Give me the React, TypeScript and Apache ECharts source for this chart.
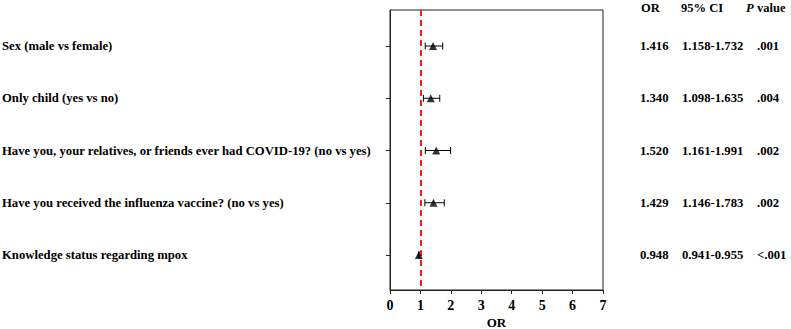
import React, { useEffect, useRef } from "react";
import * as echarts from "echarts";

const categories = [
  "Sex (male vs female)",
  "Only child (yes vs no)",
  "Have you, your relatives, or friends ever had COVID-19? (no vs yes)",
  "Have you received the influenza vaccine? (no vs yes)",
  "Knowledge status regarding mpox",
];
const orValues = [1.416, 1.34, 1.52, 1.429, 0.948];
const ciLower = [1.158, 1.098, 1.161, 1.146, 0.941];
const ciUpper = [1.732, 1.635, 1.991, 1.783, 0.955];
const orLabels = ["1.416", "1.340", "1.520", "1.429", "0.948"];
const ciLabels = ["1.158-1.732", "1.098-1.635", "1.161-1.991", "1.146-1.783", "0.941-0.955"];
const pLabels = [".001", ".004", ".002", ".002", "<.001"];
const xTicks = [0, 1, 2, 3, 4, 5, 6, 7];
const xTitle = "OR";

const FONT = "'Liberation Serif', 'Times New Roman', serif";
const rowIdx = categories.map((_, i) => i);

export default function App() {
  const ref = useRef<HTMLDivElement>(null);
  useEffect(() => {
    if (!ref.current) return;
    const chart = echarts.init(ref.current, null, { renderer: "svg" });
    const yBase = {
      type: "value",
      inverse: true,
      min: -0.69,
      max: 4.67,
      splitLine: { show: false },
    };
    const textAxis = (labels: string[], margin: number) => ({
      ...yBase,
      position: "right",
      axisLine: { show: false },
      axisTick: { show: false },
      axisLabel: {
        customValues: rowIdx,
        formatter: (v: number) => labels[Math.round(v)] ?? "",
        align: "left",
        margin,
        fontFamily: FONT,
        fontWeight: "bold",
        fontSize: 12.7,
        color: "#000",
      },
    });
    chart.setOption({
      animation: false,
      grid: {
        left: 390,
        right: 188,
        top: 10,
        bottom: 39,
        show: true,
        borderColor: "#222",
        borderWidth: 1,
        containLabel: false,
        outerBoundsMode: "none",
      },
      xAxis: {
        type: "value",
        min: 0,
        max: 7,
        interval: 1,
        axisLine: { show: true, onZero: false, lineStyle: { color: "#222", width: 1 } },
        axisTick: { show: true, length: 4, lineStyle: { color: "#222" }, customValues: xTicks },
        axisLabel: {
          customValues: xTicks,
          margin: 8,
          fontFamily: FONT,
          fontWeight: "bold",
          fontSize: 14,
          color: "#000",
        },
        splitLine: { show: false },
      },
      yAxis: [
        {
          ...yBase,
          position: "left",
          axisLine: { show: true, onZero: false, lineStyle: { color: "#222", width: 1 } },
          axisTick: { show: true, length: 4, lineStyle: { color: "#222" }, customValues: rowIdx },
          axisLabel: {
            customValues: rowIdx,
            formatter: (v: number) => categories[Math.round(v)] ?? "",
            align: "left",
            margin: 388,
            fontFamily: FONT,
            fontWeight: "bold",
            fontSize: 12.7,
            color: "#000",
          },
        },
        textAxis(orLabels, 37),
        textAxis(ciLabels, 79),
        textAxis(pLabels, 154),
      ],
      graphic: [
        { type: "text", left: 641, top: 1, style: { text: "OR", font: `bold 12.5px ${FONT}`, fill: "#000" } },
        { type: "text", left: 681, top: 1, style: { text: "95% CI", font: `bold 12.5px ${FONT}`, fill: "#000" } },
        {
          type: "text",
          left: 746,
          top: 1,
          style: {
            text: "{i|P} {b|value}",
            rich: {
              i: { fontFamily: FONT, fontWeight: "bold", fontStyle: "italic", fontSize: 12.5, fill: "#000" },
              b: { fontFamily: FONT, fontWeight: "bold", fontSize: 12.5, fill: "#000" },
            },
          },
        },
        {
          type: "text",
          x: 496.5,
          y: 322,
          style: {
            text: xTitle,
            font: `bold 13px ${FONT}`,
            fill: "#000",
            align: "center",
            verticalAlign: "middle",
          },
        },
      ],
      series: [
        {
          type: "custom",
          xAxisIndex: 0,
          yAxisIndex: 0,
          data: rowIdx.map((i) => [ciLower[i], ciUpper[i], i]),
          renderItem: (params: any, api: any) => {
            const lo = api.coord([api.value(0), api.value(2)]);
            const hi = api.coord([api.value(1), api.value(2)]);
            const h = 3.5;
            const style = { stroke: "#000", lineWidth: 1, fill: "none" };
            return {
              type: "group",
              children: [
                { type: "line", shape: { x1: lo[0], y1: lo[1], x2: hi[0], y2: hi[1] }, style },
                { type: "line", shape: { x1: lo[0], y1: lo[1] - h, x2: lo[0], y2: lo[1] + h }, style },
                { type: "line", shape: { x1: hi[0], y1: hi[1] - h, x2: hi[0], y2: hi[1] + h }, style },
              ],
            };
          },
          z: 3,
        },
        {
          type: "scatter",
          xAxisIndex: 0,
          yAxisIndex: 0,
          symbol: "triangle",
          symbolSize: 8,
          itemStyle: { color: "#000" },
          data: rowIdx.map((i) => [orValues[i], i]),
          z: 4,
          markLine: {
            silent: true,
            symbol: "none",
            label: { show: false },
            lineStyle: { color: "#ff1a1a", type: [6, 4], width: 2 },
            data: [{ xAxis: 1 }],
            z: 2,
          },
        },
      ],
    });
    return () => chart.dispose();
  }, []);
  return (
    <div
      ref={ref}
      style={{ position: "fixed", left: 0, top: 0, width: 791, height: 329, background: "#fff" }}
    />
  );
}
